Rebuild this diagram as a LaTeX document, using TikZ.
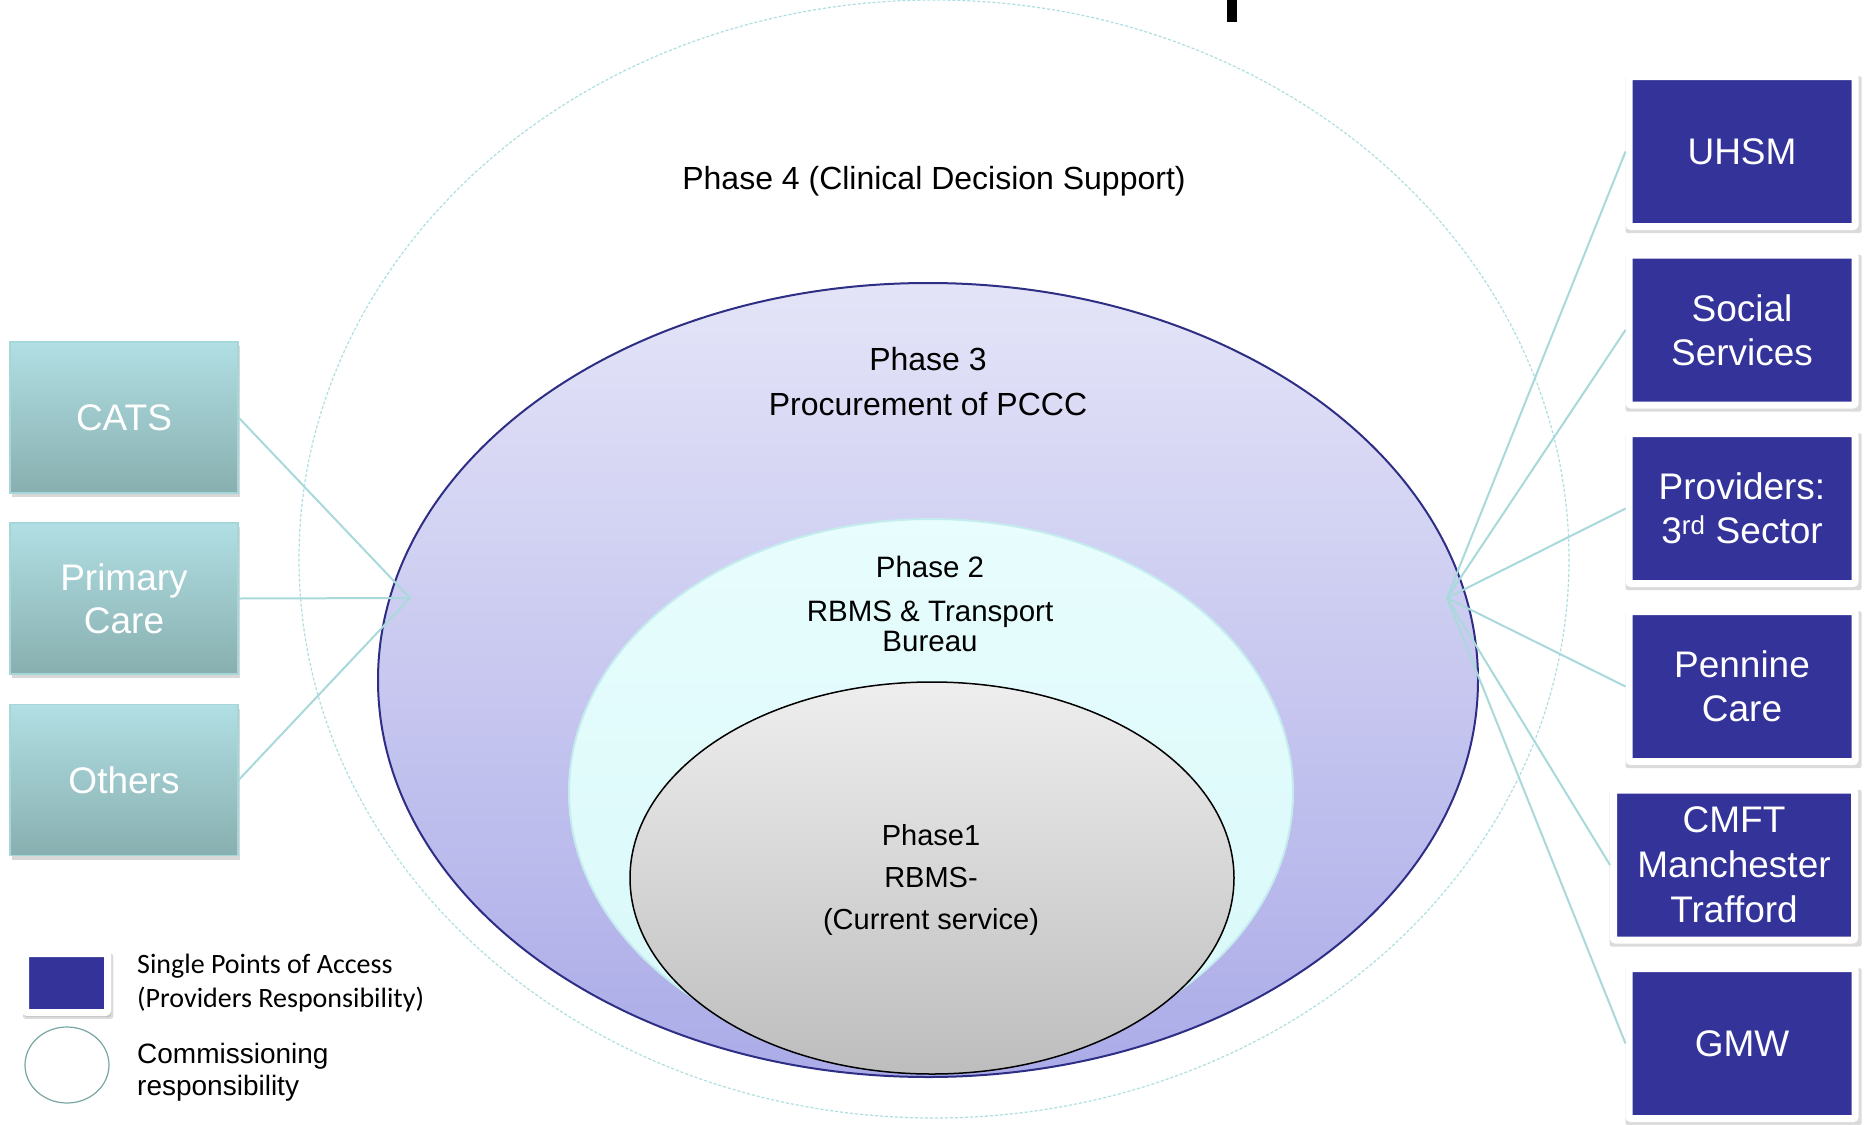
\documentclass[tikz,border=0pt]{standalone}
\usepackage{fontspec}
\setmainfont{Liberation Sans}
\newfontfamily\carlito{Carlito}
\usetikzlibrary{shadows}
\definecolor{spa}{HTML}{333399}
\definecolor{lefttop}{HTML}{B1DFE3}
\definecolor{leftbot}{HTML}{88AFB0}
\definecolor{leftline}{HTML}{A4D6DA}
\definecolor{conn}{HTML}{A9D9DB}
\definecolor{phfour}{HTML}{AEDFE0}
\definecolor{phthreetop}{HTML}{E4E4F8}
\definecolor{phthreebot}{HTML}{ABABE8}
\definecolor{phthreeline}{HTML}{2E2E85}
\definecolor{phtwotop}{HTML}{E8FDFD}
\definecolor{phtwobot}{HTML}{D8F8F9}
\definecolor{phtwoline}{HTML}{C4ECEE}
\definecolor{phonetop}{HTML}{EEEEEE}
\definecolor{phonebot}{HTML}{BDBDBD}
\definecolor{legring}{HTML}{7AA5A5}
\begin{document}
\begin{tikzpicture}[x=1pt,y=-1pt,
  leftbox/.style={rectangle, minimum width=228, minimum height=151, top color=lefttop, bottom color=leftbot, draw=leftline, line width=1.2pt, text=white, align=center, font=\fontsize{37}{43}\selectfont, drop shadow={opacity=0.3, shadow xshift=2pt, shadow yshift=-4pt}},
  spabox/.style={rectangle, fill=spa, draw=white, line width=7pt, rounded corners=2pt, minimum width=226, minimum height=150, text=white, align=center, font=\fontsize{37}{44}\selectfont, drop shadow={opacity=0.28, shadow scale=1.045, shadow xshift=1.5pt, shadow yshift=-3pt}},
  connector/.style={draw=conn, line width=2pt},
  phtext/.style={align=center, text=black, inner sep=0pt}
]
\useasboundingbox (0,0) rectangle (1865,1124);
\fill[white] (0,0) rectangle (1865,1124);

% top black bar
\fill[black] (1227,0) rectangle (1237,22);

% Phase 4 (dashed ellipse)
\draw[draw=phfour, line width=1.2pt, dash pattern=on 3pt off 2pt] (934,559) ellipse [x radius=635, y radius=559];

% Phase 3
\path[top color=phthreetop, bottom color=phthreebot, draw=phthreeline, line width=2pt] (928,680) ellipse [x radius=550, y radius=397];
% Phase 2
\path[top color=phtwotop, bottom color=phtwobot, draw=phtwoline, line width=2pt] (931,792) ellipse [x radius=362, y radius=273];
% Phase 1
\path[top color=phonetop, bottom color=phonebot, draw=black, line width=1.5pt] (932,878) ellipse [x radius=302, y radius=196];

% phase texts
\node[phtext, font=\fontsize{32}{36}\selectfont] (p4) at (934,181) {Phase 4 (Clinical Decision Support)};
\node[phtext, font=\fontsize{32}{45}\selectfont] (p3) at (928,382) {Phase 3\\Procurement of PCCC};
\node[phtext, font=\fontsize{29.5}{30}\selectfont] (p2) at (930,604) {Phase 2\\[14pt]RBMS \& Transport\\Bureau};
\node[phtext, font=\fontsize{29}{42}\selectfont] (p1) at (931,880) {Phase1\\RBMS-\\(Current service)};

% hubs
\coordinate (lhub) at (410,598);
\coordinate (rhub) at (1447,598);

% left boxes
\node[leftbox] (cats) at (124,417.5) {CATS};
\node[leftbox] (primary) at (124,598.5) {Primary\\Care};
\node[leftbox] (others) at (124,780) {Others};

% right boxes
\node[spabox] (uhsm) at (1742,151.5) {UHSM};
\node[spabox] (social) at (1742,330) {Social\\Services};
\node[spabox] (providers) at (1742,508.5) {Providers:\\3\textsuperscript{rd} Sector};
\node[spabox] (pennine) at (1742,686.5) {Pennine\\Care};
\node[spabox, minimum width=241, font=\fontsize{37}{45}\selectfont] (cmft) at (1734,865) {CMFT\\Manchester\\Trafford};
\node[spabox] (gmw) at (1742,1043.5) {GMW};

% connectors
\draw[connector] (cats.east) -- (lhub);
\draw[connector] (primary.east) -- (lhub);
\draw[connector] (others.east) -- (lhub);
\draw[connector] (rhub) -- (uhsm.west);
\draw[connector] (rhub) -- (social.west);
\draw[connector] (rhub) -- (providers.west);
\draw[connector] (rhub) -- (pennine.west);
\draw[connector] (rhub) -- (cmft.west);
\draw[connector] (rhub) -- (gmw.west);

% legend
\node[spabox, minimum width=82, minimum height=59, drop shadow={opacity=0.28, shadow scale=1.1, shadow xshift=1.5pt, shadow yshift=-3pt}] (legbox) at (66.5,983) {};
\draw[draw=legring, line width=1.2pt, fill=white] (67,1065) ellipse [x radius=42, y radius=38];
\node[anchor=west, align=left, inner sep=0pt, font=\carlito\fontsize{28}{34}\selectfont] (legt1) at (137,983) {Single Points of Access\\(Providers Responsibility)};
\node[anchor=west, align=left, inner sep=0pt, font=\fontsize{28}{32}\selectfont] (legt2) at (137,1072) {Commissioning\\responsibility};
\end{tikzpicture}
\end{document}
